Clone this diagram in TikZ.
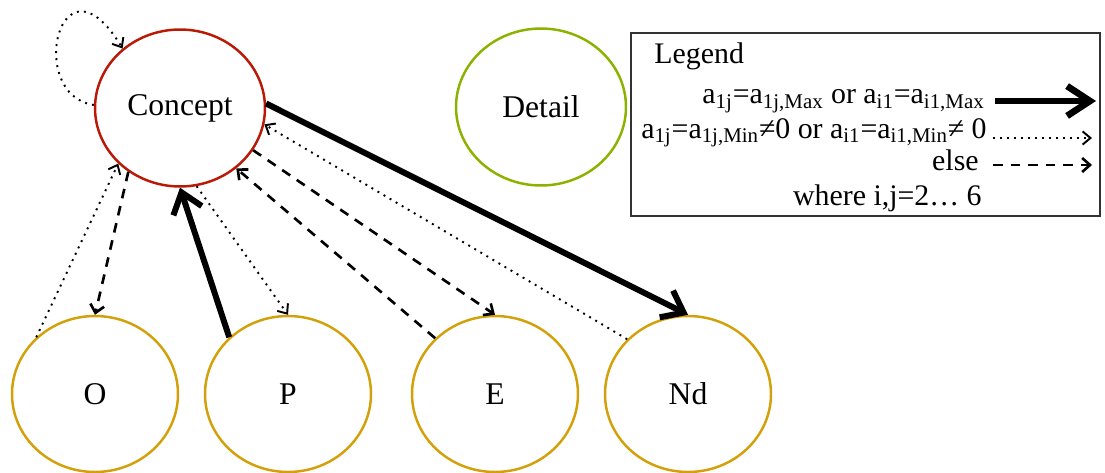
\documentclass[tikz,border=0pt]{standalone}
\usepackage{fontspec}
\setmainfont{Liberation Serif}
\usetikzlibrary{shapes.geometric,arrows.meta}
\definecolor{cred}{RGB}{185,25,5}
\definecolor{cgreen}{RGB}{140,178,0}
\definecolor{cgold}{RGB}{212,160,10}
\definecolor{cbox}{RGB}{50,50,50}
\begin{document}
\begin{tikzpicture}[x=0.02cm,y=-0.02cm,
  ell/.style={ellipse, draw, line width=1.4pt, inner sep=0pt, font=\fontsize{18}{22}\selectfont},
  topell/.style={ell, minimum width=3.4cm, minimum height=3.14cm},
  botell/.style={ell, draw=cgold, minimum width=3.32cm, minimum height=3.12cm},
  leg/.style={inner sep=0pt, font=\fontsize{17}{20}\selectfont},
  thickarr/.style={line width=3.4pt, -{Straight Barb[length=11pt,width=17pt]}},
  dotarr/.style={line width=1.1pt, dash pattern=on 1.1pt off 2.9pt, -{Straight Barb[length=4.5pt,width=7.5pt]}},
  dasharr/.style={line width=1.5pt, dash pattern=on 5.5pt off 4.5pt, -{Straight Barb[length=4.5pt,width=8pt]}},
  legthick/.style={line width=3.8pt, -{Straight Barb[length=13pt,width=17pt]}}
]
\useasboundingbox (0,0) rectangle (1105,473);
% nodes
\node[topell, draw=cred] (C) at (180,108) {Concept};
\node[topell, draw=cgreen] (D) at (541,107) {Detail};
\node[botell] (O) at (95,394) {O};
\node[botell] (P) at (288,394) {P};
\node[botell] (E) at (495,394) {E};
\node[botell] (Nd) at (688,394) {Nd};
% connectors
\draw[dotarr] (C.178) .. controls (25,95) and (60,-55) .. (C.134);
\draw[dotarr] (O.136) -- (C.222);
\draw[dasharr] (C.231) -- (O.90);
\draw[thickarr] (P.136) -- (C.270);
\draw[dotarr] (C.282) -- (P.90);
\draw[dasharr] (E.137) -- (C.313);
\draw[dasharr] (C.330) -- (E.90);
\draw[dotarr] (Nd.138) -- (C.349);
\draw[thickarr] (C.3) -- (Nd.90);
% legend
\draw[cbox, line width=0.8pt] (631,33) rectangle (1100,216);
\node[leg, anchor=base west] (lt) at (654,64) {Legend};
\node[leg, anchor=base east] (r1) at (985,104) {a\textsubscript{1j}=a\textsubscript{1j,Max} or a\textsubscript{i1}=a\textsubscript{i1,Max}};
\node[leg, anchor=base east] (r2) at (987,138) {a\textsubscript{1j}=a\textsubscript{1j,Min}≠0 or a\textsubscript{i1}=a\textsubscript{i1,Min}≠ 0};
\node[leg, anchor=base east] (r3) at (979,170) {else};
\node[leg, anchor=base east] (r4) at (982,205) {where i,j=2… 6};
\coordinate (a1s) at (995,101); \coordinate (a1e) at (1096,101);
\coordinate (a2s) at (993,138); \coordinate (a2e) at (1092,138);
\coordinate (a3s) at (993,165); \coordinate (a3e) at (1092,165);
\draw[legthick] (a1s) -- (a1e);
\draw[dotarr] (a2s) -- (a2e);
\draw[dasharr] (a3s) -- (a3e);
\end{tikzpicture}
\end{document}
